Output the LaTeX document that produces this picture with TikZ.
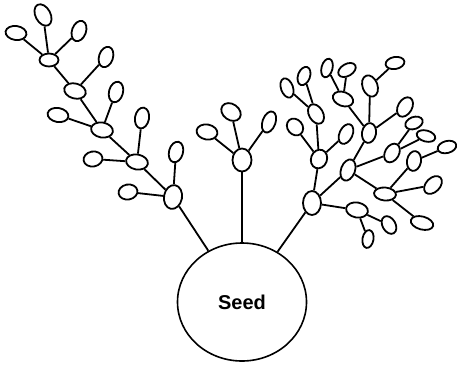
\documentclass[tikz,border=0pt]{standalone}
\usepackage{fontspec}
\setmainfont{Liberation Sans}
\usetikzlibrary{shapes.geometric}

\begin{document}
\begin{tikzpicture}[x=1pt, y=-1pt, line width=1.8pt,
	bud/.style={ellipse, draw, inner sep=0pt, minimum width=21pt, minimum height=14pt},
	hub/.style={bud, minimum width=22pt, minimum height=15pt}]
	\useasboundingbox (0,0) rectangle (457,365);

	\node[ellipse, draw, line width=1.6pt, inner sep=0pt, minimum width=129pt, minimum height=118pt, font=\bfseries\fontsize{20}{24}\selectfont] (seed) at (242,302) {Seed};

	\node[bud, minimum width=23pt, minimum height=15pt, rotate=-62] (la) at (43,15) {};
	\node[bud, rotate=-8] (lb) at (16,33) {};
	\node[bud, rotate=70] (lc) at (79,31) {};
	\node[hub, minimum width=19pt, minimum height=13pt] (lh1) at (49,60) {};
	\node[bud, rotate=72] (ld) at (106,57) {};
	\node[hub, rotate=-15] (lh2) at (75,91) {};
	\node[bud, rotate=75] (le) at (116,92) {};
	\node[hub, rotate=-10] (lh3) at (102,130) {};
	\node[bud, rotate=-10] (lf) at (58,115) {};
	\node[bud, rotate=80] (lg) at (142,118) {};
	\node[hub, rotate=-10] (lh4) at (137,162) {};
	\node[bud, minimum width=19pt, minimum height=15pt, rotate=10] (lh) at (93,159) {};
	\node[bud, rotate=75] (li) at (176,152) {};
	\node[hub, minimum width=24pt, minimum height=18pt, rotate=80] (lh5) at (173,197) {};
	\node[bud, minimum width=19pt, minimum height=15pt, rotate=10] (lj) at (128,192) {};

	\draw (lh1) -- (la);
	\draw (lh1) -- (lb);
	\draw (lh1) -- (lc);
	\draw (lh1) -- (lh2);
	\draw (lh2) -- (ld);
	\draw (lh2) -- (lh3);
	\draw (lh3) -- (le);
	\draw (lh3) -- (lf);
	\draw (lh3) -- (lh4);
	\draw (lh4) -- (lg);
	\draw (lh4) -- (lh);
	\draw (lh4) -- (lh5);
	\draw (lh5) -- (li);
	\draw (lh5) -- (lj);
	\draw (seed) -- (lh5);

	\node[hub, minimum width=23pt, minimum height=19pt, rotate=90] (mh) at (242,160) {};
	\node[bud, minimum height=15pt, rotate=-10] (ma) at (207,132) {};
	\node[bud, minimum height=16pt, rotate=-35] (mb) at (231,112) {};
	\node[bud, minimum width=22pt, minimum height=13pt, rotate=70] (mc) at (269,122) {};

	\draw (seed) -- (mh);
	\draw (mh) -- (ma);
	\draw (mh) -- (mb);
	\draw (mh) -- (mc);

	\node[hub, minimum width=24pt, minimum height=18pt, rotate=90] (rh1) at (312,203) {};
	\node[hub, rotate=-10] (ra) at (357,210) {};
	\node[bud, minimum width=18pt, minimum height=11pt, rotate=80] (rb) at (368,239) {};
	\node[bud, minimum width=19pt, minimum height=13pt, rotate=-60] (rc) at (389,225) {};
	\node[hub, minimum width=22pt, minimum height=14pt, rotate=70] (rh2) at (348,170) {};
	\node[hub, minimum width=19pt, minimum height=16pt, rotate=70] (rh3) at (319,159) {};
	\node[bud, minimum width=18pt, minimum height=15pt, rotate=-50] (r3a) at (295,127) {};
	\node[bud, minimum width=21pt, minimum height=13pt, rotate=65] (r3b) at (346,134) {};
	\node[hub, minimum width=21pt, minimum height=14pt, rotate=-60] (rh4) at (316,114) {};
	\node[bud, minimum width=20pt, minimum height=12pt, rotate=-70] (r4a) at (287,88) {};
	\node[bud, minimum width=19pt, minimum height=12pt, rotate=70] (r4b) at (304,76) {};
	\node[hub, minimum width=20pt, minimum height=14pt, rotate=80] (rh5) at (369,133) {};
	\node[hub, minimum width=21pt, minimum height=14pt, rotate=-20] (rh6) at (343,99) {};
	\node[bud, minimum width=19pt, minimum height=11pt, rotate=75] (r6a) at (327,68) {};
	\node[bud, minimum width=19pt, minimum height=12pt, rotate=30] (r6b) at (347,70) {};
	\node[bud, minimum width=22pt, minimum height=15pt, rotate=-70] (r5a) at (370,86) {};
	\node[bud, minimum width=19pt, minimum height=12pt, rotate=10] (r5b) at (395,63) {};
	\node[bud, rotate=60] (r5c) at (405,107) {};
	\node[hub, minimum width=20pt, minimum height=14pt, rotate=60] (rh7) at (392,153) {};
	\node[bud, minimum width=18pt, minimum height=12pt, rotate=20] (r7a) at (414,123) {};
	\node[bud, minimum width=19pt, minimum height=11pt, rotate=-15] (r7b) at (426,136) {};
	\node[hub, minimum height=13pt, rotate=-5] (rh8) at (385,194) {};
	\node[hub, minimum width=20pt, minimum height=14pt, rotate=80] (rh9) at (414,161) {};
	\node[bud, minimum width=19pt, minimum height=12pt, rotate=15] (r9a) at (447,147) {};
	\node[bud, rotate=45] (r8a) at (433,185) {};
	\node[bud, minimum width=23pt, minimum height=13pt, rotate=-15] (r8b) at (422,223) {};

	\draw (seed) -- (rh1);
	\draw (rh1) -- (ra);
	\draw (ra) -- (rb);
	\draw (ra) -- (rc);
	\draw (rh1) -- (rh2);
	\draw (rh1) -- (rh3);
	\draw (rh3) -- (r3a);
	\draw (rh3) -- (r3b);
	\draw (rh3) -- (rh4);
	\draw (rh4) -- (r4a);
	\draw (rh4) -- (r4b);
	\draw (rh2) -- (rh5);
	\draw (rh5) -- (rh6);
	\draw (rh6) -- (r6a);
	\draw (rh6) -- (r6b);
	\draw (rh5) -- (r5a);
	\draw (r5a) -- (r5b);
	\draw (rh5) -- (r5c);
	\draw (rh2) -- (rh7);
	\draw (rh7) -- (r7a);
	\draw (rh7) -- (r7b);
	\draw (rh2) -- (rh8);
	\draw (rh8) -- (rh9);
	\draw (rh9) -- (r9a);
	\draw (rh8) -- (r8a);
	\draw (rh8) -- (r8b);
\end{tikzpicture}
\end{document}
